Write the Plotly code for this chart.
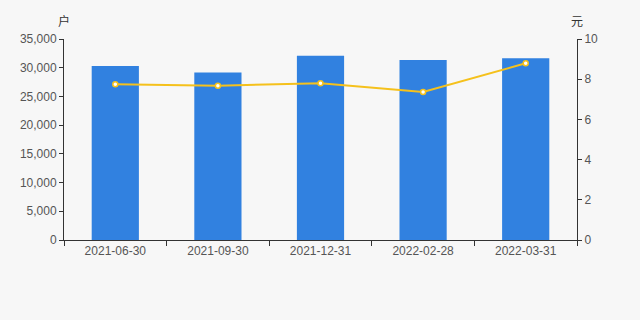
import plotly.graph_objects as go

categories = ["2021-06-30", "2021-09-30", "2021-12-31", "2022-02-28", "2022-03-31"]
holders = [30300, 29150, 32100, 31350, 31650]
price = [7.75, 7.68, 7.80, 7.36, 8.79]

left_ticks = [0, 5000, 10000, 15000, 20000, 25000, 30000, 35000]
right_ticks = [0, 2, 4, 6, 8, 10]

font = dict(family="Liberation Sans, Arial, sans-serif", size=12, color="#555555")

fig = go.Figure()
fig.add_trace(go.Bar(x=categories, y=holders, marker=dict(color="#3181e0", line=dict(width=0)),
                     yaxis="y", hoverinfo="skip"))
fig.add_trace(go.Scatter(x=categories, y=price, yaxis="y2", mode="lines+markers",
                         line=dict(color="#f5c11c", width=2),
                         marker=dict(size=5, color="#ffffff", line=dict(color="#f5c11c", width=1.5)),
                         hoverinfo="skip"))

fig.update_layout(
    width=640, height=320,
    margin=dict(l=64, r=63, t=39, b=80),
    paper_bgcolor="#f7f7f7", plot_bgcolor="#f7f7f7",
    showlegend=False, bargap=0.54,
    font=font,
    xaxis=dict(type="category", showgrid=False, showline=True, linecolor="#333333", linewidth=1,
               ticks="outside", ticklen=5, tickcolor="#333333", tickson="boundaries",
               tickfont=dict(size=12, color="#555555"), zeroline=False),
    yaxis=dict(range=[0, 35000], tickvals=left_ticks, tickformat=",d", showgrid=False,
               showline=True, linecolor="#333333", linewidth=1, ticks="outside", ticklen=4,
               tickcolor="#333333", zeroline=False, tickfont=dict(size=12, color="#555555")),
    yaxis2=dict(range=[0, 10], tickvals=right_ticks, overlaying="y", side="right", showgrid=False,
                showline=True, linecolor="#333333", linewidth=1, ticks="outside", ticklen=4,
                tickcolor="#333333", zeroline=False, tickfont=dict(size=12, color="#555555")),
    annotations=[
        dict(text="户", x=0, y=1, xref="paper", yref="paper", xanchor="center", yanchor="bottom",
             yshift=8, showarrow=False, font=dict(size=12, color="#333333", family="Noto Sans CJK SC")),
        dict(text="元", x=1, y=1, xref="paper", yref="paper", xanchor="center", yanchor="bottom",
             yshift=8, showarrow=False, font=dict(size=12, color="#333333", family="Noto Sans CJK SC")),
    ],
)

fig.write_html("out.html")
